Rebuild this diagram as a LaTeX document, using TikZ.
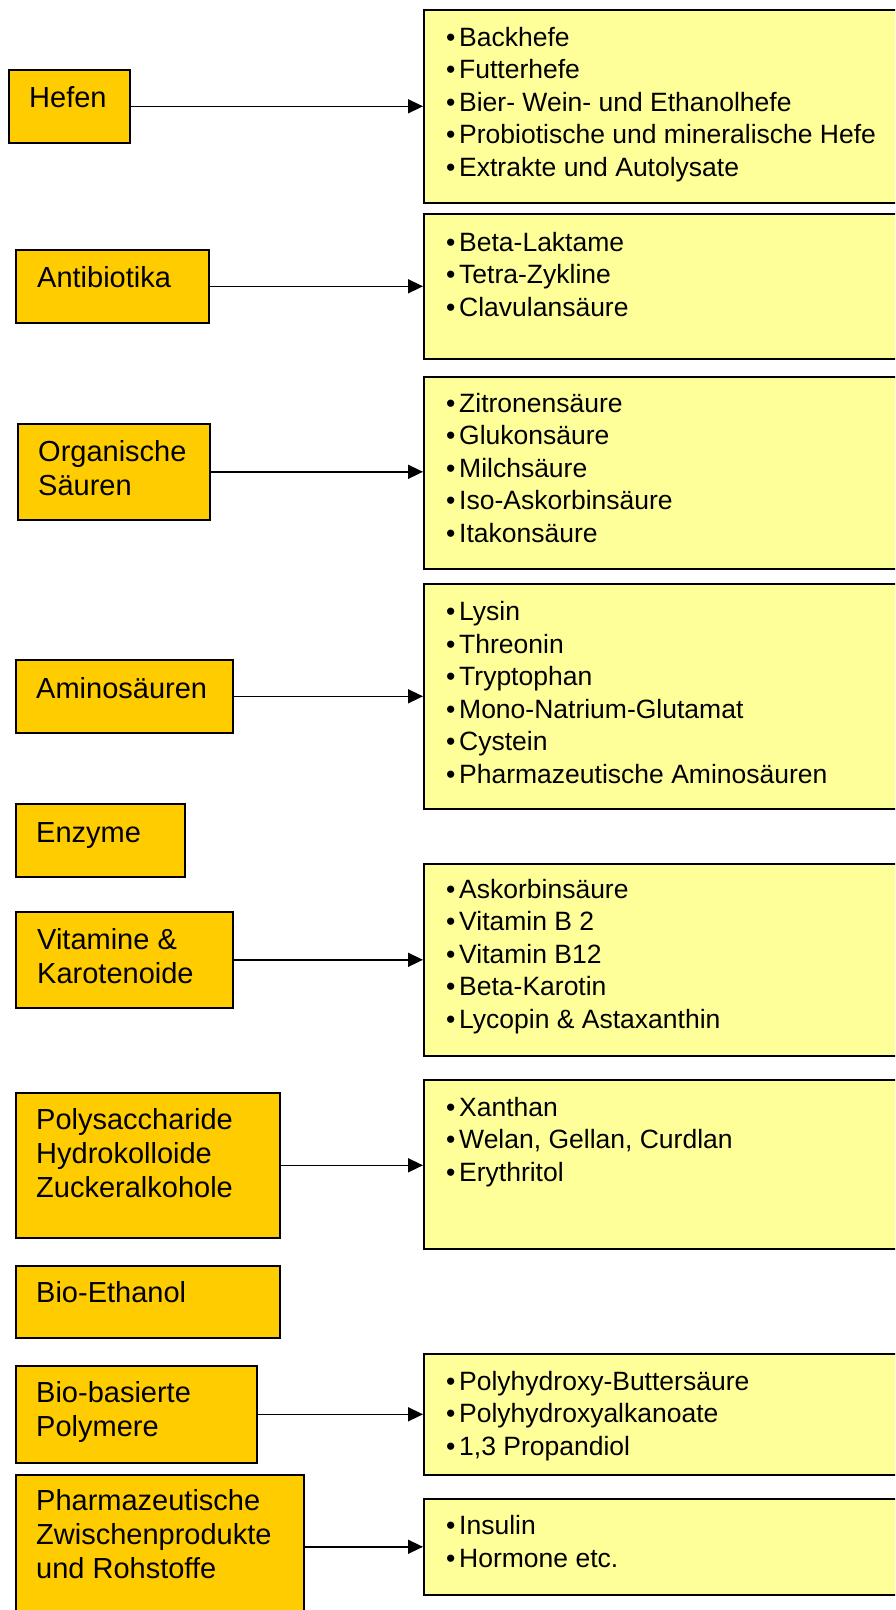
\documentclass[tikz,border=0pt]{standalone}
\usepackage{fontspec}
\setmainfont{Liberation Sans}
\usetikzlibrary{arrows.meta}
\definecolor{orangebox}{HTML}{FFCC00}
\definecolor{yellowbox}{HTML}{FFFF99}
\newcommand\bul{\makebox[13pt][l]{•}}
\begin{document}
\begin{tikzpicture}[x=1pt,y=-1pt,
  lbox/.style={draw=black, line width=1.6pt, fill=orangebox, rectangle, anchor=north west, inner sep=0pt},
  rbox/.style={draw=black, line width=1.6pt, fill=yellowbox, rectangle, anchor=north west, inner sep=0pt, minimum width=520pt},
  ltext/.style={anchor=base west, inner sep=0pt, align=left, font=\fontsize{29}{33.7}\selectfont},
  rtext/.style={anchor=base west, inner sep=0pt, align=left, font=\fontsize{26.5}{32.5}\selectfont},
  arr/.style={line width=1.5pt, -{Triangle[length=15pt,width=14pt]}}]
\clip (0,0) rectangle (895,1610);
\fill[white] (0,0) rectangle (895,1610);
% left boxes
\node[lbox, minimum width=121pt, minimum height=73pt] (hefen) at (8,69) {};
\node[lbox, minimum width=193pt, minimum height=73pt] (anti) at (15,249) {};
\node[lbox, minimum width=192pt, minimum height=96pt] (org) at (17,423) {};
\node[lbox, minimum width=217pt, minimum height=73pt] (amino) at (15,659) {};
\node[lbox, minimum width=169pt, minimum height=73pt] (enz) at (15,803) {};
\node[lbox, minimum width=217pt, minimum height=96pt] (vit) at (15,911) {};
\node[lbox, minimum width=264pt, minimum height=145pt] (poly) at (15,1092) {};
\node[lbox, minimum width=264pt, minimum height=72pt] (bioeth) at (15,1265) {};
\node[lbox, minimum width=241pt, minimum height=97pt] (biobas) at (15,1365) {};
\node[lbox, minimum width=288pt, minimum height=144pt] (pharm) at (15,1474) {};
% right boxes
\node[rbox, minimum height=193pt] (r1) at (423,9) {};
\node[rbox, minimum height=145pt] (r2) at (423,213) {};
\node[rbox, minimum height=192pt] (r3) at (423,376) {};
\node[rbox, minimum height=225pt] (r4) at (423,583) {};
\node[rbox, minimum height=192pt] (r5) at (423,863) {};
\node[rbox, minimum height=169pt] (r6) at (423,1079) {};
\node[rbox, minimum height=121pt] (r7) at (423,1353) {};
\node[rbox, minimum height=96pt] (r8) at (423,1498) {};
% left texts (anchor = baseline of last line)
\node[ltext] (thefen) at (29,107) {Hefen};
\node[ltext] (tanti) at (37,287) {Antibiotika};
\node[ltext] (torg) at (38,495) {Organische\\Säuren};
\node[ltext] (tamino) at (36,698) {Aminosäuren};
\node[ltext] (tenz) at (36,842) {Enzyme};
\node[ltext] (tvit) at (37,983) {Vitamine \&\\Karotenoide};
\node[ltext] (tpoly) at (36,1197) {Polysaccharide\\Hydrokolloide\\Zuckeralkohole};
\node[ltext] (tbioeth) at (36,1302) {Bio-Ethanol};
\node[ltext] (tbiobas) at (36,1436) {Bio-basierte\\Polymere};
\node[ltext] (tpharm) at (36,1578) {Pharmazeutische\\Zwischenprodukte\\und Rohstoffe};
% right texts (anchor = baseline of last line)
\node[rtext] (tr1) at (446,176) {\bul Backhefe\\\bul Futterhefe\\\bul Bier- Wein- und Ethanolhefe\\\bul Probiotische und mineralische Hefe\\\bul Extrakte und Autolysate};
\node[rtext] (tr2) at (446,316) {\bul Beta-Laktame\\\bul Tetra-Zykline\\\bul Clavulansäure};
\node[rtext] (tr3) at (446,542) {\bul Zitronensäure\\\bul Glukonsäure\\\bul Milchsäure\\\bul Iso-Askorbinsäure\\\bul Itakonsäure};
\node[rtext] (tr4) at (446,783) {\bul Lysin\\\bul Threonin\\\bul Tryptophan\\\bul Mono-Natrium-Glutamat\\\bul Cystein\\\bul Pharmazeutische Aminosäuren};
\node[rtext] (tr5) at (446,1028) {\bul Askorbinsäure\\\bul Vitamin B 2\\\bul Vitamin B12\\\bul Beta-Karotin\\\bul Lycopin \& Astaxanthin};
\node[rtext] (tr6) at (446,1181) {\bul Xanthan\\\bul Welan, Gellan, Curdlan\\\bul Erythritol};
\node[rtext] (tr7) at (446,1455) {\bul Polyhydroxy-Buttersäure\\\bul Polyhydroxyalkanoate\\\bul 1,3 Propandiol};
\node[rtext] (tr8) at (446,1567) {\bul Insulin\\\bul Hormone etc.};
% arrows
\draw[arr] (hefen.east) -- (hefen.east -| r1.west);
\draw[arr] (anti.east) -- (anti.east -| r2.west);
\draw[arr] (org.east) -- (org.east -| r3.west);
\draw[arr] (amino.east) -- (amino.east -| r4.west);
\draw[arr] (vit.east) -- (vit.east -| r5.west);
\draw[arr] (poly.east) -- (poly.east -| r6.west);
\draw[arr] (biobas.east) -- (biobas.east -| r7.west);
\draw[arr] (pharm.east) -- (pharm.east -| r8.west);
\end{tikzpicture}
\end{document}
